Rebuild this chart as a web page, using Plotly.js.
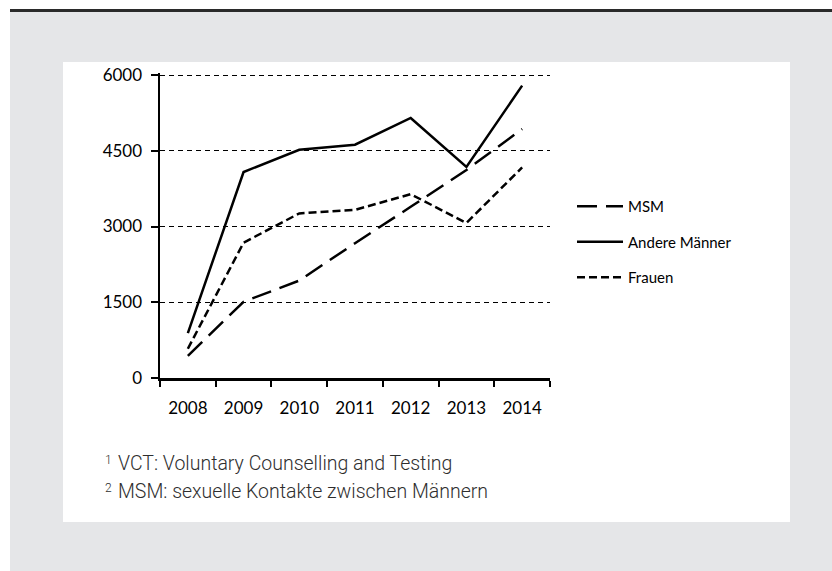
<!DOCTYPE html>
<html>
<head>
<meta charset="utf-8">
<script src="https://cdn.plot.ly/plotly-3.0.1.min.js"></script>
<style>
html,body{margin:0;padding:0;background:#fff;}
#chart{width:832px;height:571px;}
</style>
</head>
<body>
<div id="chart"></div>
<script>
// Data
var years = ['2008','2009','2010','2011','2012','2013','2014'];
var msm = [440, 1510, 1930, 2670, 3390, 4120, 4930];
var andere = [890, 4080, 4520, 4620, 5150, 4180, 5790];
var frauen = [580, 2680, 3260, 3330, 3640, 3070, 4170];
var yTicks = [0, 1500, 3000, 4500, 6000];
var seriesNames = ['MSM', 'Andere Männer', 'Frauen'];
var footnoteNums = ['1', '2'];
var footnotes = ['VCT: Voluntary Counselling and Testing',
                 'MSM: sexuelle Kontakte zwischen Männern'];

// Layout helpers (pixel -> paper)
var W = 832, H = 571, L = 160, R = 550, T = 73, B = 378;
function px(x){ return (x - L) / (R - L); }
function py(y){ return (B - y) / (B - T); }

var tickFont = {family: 'Lato, "Open Sans", sans-serif', size: 17, color: '#000'};

var traces = [
  {x: years, y: msm, name: seriesNames[0], type: 'scatter', mode: 'lines',
   line: {color: '#000', width: 2.5, dash: '20px,9px'}, legendgroup: 'a'},
  {x: years, y: andere, name: seriesNames[1], type: 'scatter', mode: 'lines',
   line: {color: '#000', width: 2.5}, legendgroup: 'b'},
  {x: years, y: frauen, name: seriesNames[2], type: 'scatter', mode: 'lines',
   line: {color: '#000', width: 2.5, dash: '8px,4px'}, legendgroup: 'c'}
];

var shapes = [
  {type:'rect', xref:'paper', yref:'paper', layer:'below', x0:px(0), x1:px(10), y0:py(H), y1:py(0), fillcolor:'#ffffff', line:{width:0}},
  {type:'rect', xref:'paper', yref:'paper', layer:'below', x0:px(0), x1:px(W), y0:py(9), y1:py(0), fillcolor:'#ffffff', line:{width:0}},
  {type:'rect', xref:'paper', yref:'paper', layer:'below', x0:px(10), x1:px(W), y0:py(12), y1:py(9), fillcolor:'#2a2a2a', line:{width:0}},
  {type:'rect', xref:'paper', yref:'paper', layer:'below', x0:px(63), x1:px(790), y0:py(522), y1:py(62), fillcolor:'#ffffff', line:{width:0}}
];

var annotations = [];
footnotes.forEach(function(t, i){
  annotations.push({xref:'paper', yref:'paper', x:px(116), y:py(463 + i*28), xanchor:'left', yanchor:'middle',
          text:t, showarrow:false, font:{family:'Roboto, "Liberation Sans", sans-serif', size:19.5, color:'#2e2e2e', weight:300}});
  annotations.push({xref:'paper', yref:'paper', x:px(114), y:py(460 + i*28), xanchor:'right', yanchor:'middle',
          text:footnoteNums[i], showarrow:false, font:{family:'Roboto, "Liberation Sans", sans-serif', size:12, color:'#2e2e2e', weight:300}});
});

var layout = {
  width: W, height: H,
  margin: {l: L, r: W - R, t: T, b: H - B, pad: 0},
  paper_bgcolor: '#e5e6e8',
  plot_bgcolor: 'rgba(0,0,0,0)',
  showlegend: true,
  legend: {x: px(572), y: py(190), xanchor: 'left', yanchor: 'top', itemwidth: 46,
           bgcolor: 'rgba(0,0,0,0)', traceorder: 'grouped', tracegroupgap: 13,
           font: {family: 'Lato, "Open Sans", sans-serif', size: 15, color: '#000'}},
  xaxis: {type: 'category', range: [-0.5, 6.5], tickson: 'boundaries', ticks: 'outside', ticklen: 6, tickwidth: 2,
          tickcolor: '#000', showline: true, linecolor: '#000', linewidth: 2.5,
          showgrid: false, zeroline: false, tickfont: tickFont, ticklabelstandoff: 13, fixedrange: true},
  yaxis: {range: [0, 6040], tickvals: yTicks, ticktext: yTicks.map(String), ticks: 'outside', ticklen: 7, tickwidth: 2,
          tickcolor: '#000', showline: true, linecolor: '#000', linewidth: 2.5,
          showgrid: true, gridcolor: '#000', gridwidth: 1, griddash: '5px,4px',
          zeroline: false, tickfont: tickFont, ticklabelstandoff: 5, fixedrange: true},
  shapes: shapes,
  annotations: annotations
};

Plotly.newPlot('chart', traces, layout, {displayModeBar: false, staticPlot: true});
</script>
</body>
</html>
